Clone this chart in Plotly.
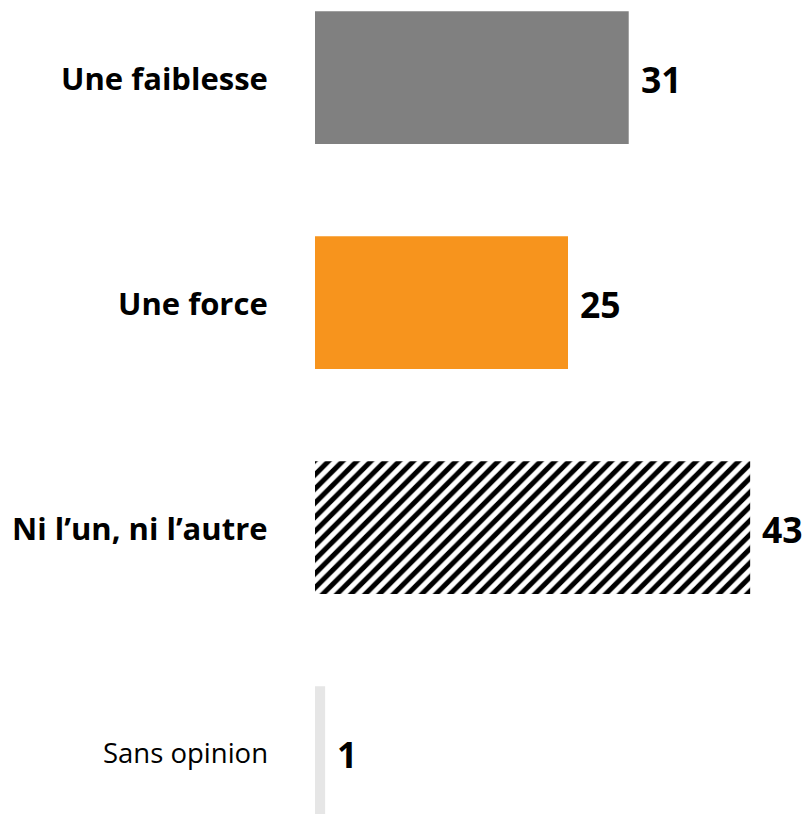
import plotly.graph_objects as go

categories = ["Une faiblesse", "Une force", "Ni l’un, ni l’autre", "Sans opinion"]
values = [31, 25, 43, 1]
colors = ["#808080", "#F7941D", "#FFFFFF", "#E6E6E6"]
patterns = ["", "", "/", ""]
bold = [True, True, True, False]

font_family = "'Open Sans', sans-serif"

fig = go.Figure()
for c, v, col, pat in zip(categories, values, colors, patterns):
    marker = dict(color=col, line=dict(width=0))
    if pat:
        marker["pattern"] = dict(shape=pat, fgcolor="#000000", bgcolor="#FFFFFF",
                                 fgopacity=1, size=10, solidity=0.5,
                                 fillmode="replace")
    fig.add_trace(go.Bar(
        y=[c], x=[v], orientation="h", marker=marker, width=0.59,
        hoverinfo="skip", showlegend=False,
    ))

for c, v, b in zip(categories, values, bold):
    fig.add_annotation(
        x=v, y=c, xref="x", yref="y", xanchor="left", yanchor="middle",
        xshift=10, yshift=-1, text=f"<b>{v}</b>", showarrow=False,
        font=dict(size=35.5, color="#000000", family=font_family),
    )
    fig.add_annotation(
        x=0, y=c, xref="paper", yref="y", xanchor="right", yanchor="middle",
        xshift=-45, text=(f"<b>{c}</b>" if b else c), showarrow=False,
        font=dict(size=31 if b else 27.5, color="#000000", family=font_family),
    )

fig.update_layout(
    width=802, height=806,
    margin=dict(l=307, r=0, t=0, b=0),
    plot_bgcolor="#FFFFFF", paper_bgcolor="#FFFFFF",
    showlegend=False,
    barmode="overlay",
    xaxis=dict(range=[0, 495 / 10.12], visible=False, fixedrange=True),
    yaxis=dict(categoryorder="array", categoryarray=categories,
               range=[(806 - 69.5) / 225, -69.5 / 225], showticklabels=False,
               showgrid=False, zeroline=False, showline=False, ticks=""),
)

fig.write_html("out.html")
